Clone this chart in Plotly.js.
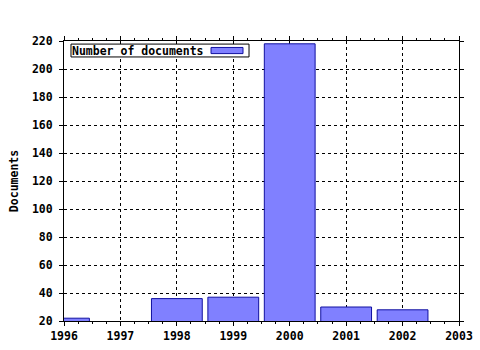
<!DOCTYPE html>
<html><head><meta charset="utf-8">
<script src="https://cdn.plot.ly/plotly-3.0.1.min.js"></script>
<style>html,body{margin:0;padding:0;background:#fff}#c{width:480px;height:350px}</style>
</head><body><div id="c"></div>
<script>
const years = [1996, 1997, 1998, 1999, 2000, 2001, 2002];
const documents = [22, 15, 36, 37, 218, 30, 28];
const seriesName = "Number of documents";
const xTicks = [1996, 1997, 1998, 1999, 2000, 2001, 2002, 2003];
const yTicks = [20, 40, 60, 80, 100, 120, 140, 160, 180, 200, 220];

const FONT = {family: "DejaVu Sans Mono", size: 11.5, color: "#000", weight: "bold"};
const trace = {
  type: "bar", x: years, y: documents, width: 0.9, name: seriesName,
  marker: {color: "#8080ff", line: {color: "#1010a0", width: 1}},
  showlegend: false, hoverinfo: "skip"
};
const axisCommon = {
  showline: true, linecolor: "#000", linewidth: 1, mirror: "ticks",
  ticks: "outside", ticklen: 4, tickcolor: "#000", tickwidth: 1,
  showgrid: true, gridcolor: "#000", griddash: "dot", gridwidth: 1,
  zeroline: false, tickfont: FONT, fixedrange: true
};
const layout = {
  width: 480, height: 350,
  margin: {l: 64, r: 21, t: 41, b: 29},
  paper_bgcolor: "#fff", plot_bgcolor: "#fff",
  font: FONT,
  xaxis: Object.assign({}, axisCommon, {
    range: [1996, 2003], tickmode: "array", tickvals: xTicks,
    ticktext: xTicks.map(String),
    minor: {dtick: 0.25, ticks: "outside", ticklen: 2, tickcolor: "#000", showgrid: false}
  }),
  yaxis: Object.assign({}, axisCommon, {
    range: [20, 220], tickmode: "array", tickvals: yTicks,
    ticktext: yTicks.map(String), ticklabelstandoff: 4,
    title: {text: "Documents", font: FONT, standoff: 10}
  }),
  shapes: [
    {type: "rect", xref: "paper", yref: "paper", x0: 0.0177, x1: 0.4684, y0: 0.943, y1: 0.989,
     line: {color: "#000", width: 1}, fillcolor: "#fff", layer: "above"},
    {type: "rect", xref: "paper", yref: "paper", x0: 0.3722, x1: 0.4532, y0: 0.955, y1: 0.977,
     line: {color: "#1010a0", width: 1}, fillcolor: "#8080ff", layer: "above"}
  ],
  annotations: [
    {xref: "paper", yref: "paper", x: 0.0152, y: 0.966, xanchor: "left", yanchor: "middle",
     text: seriesName, showarrow: false, font: FONT}
  ],
  bargap: 0.1
};
Plotly.newPlot("c", [trace], layout, {staticPlot: true, displayModeBar: false});
</script></body></html>
